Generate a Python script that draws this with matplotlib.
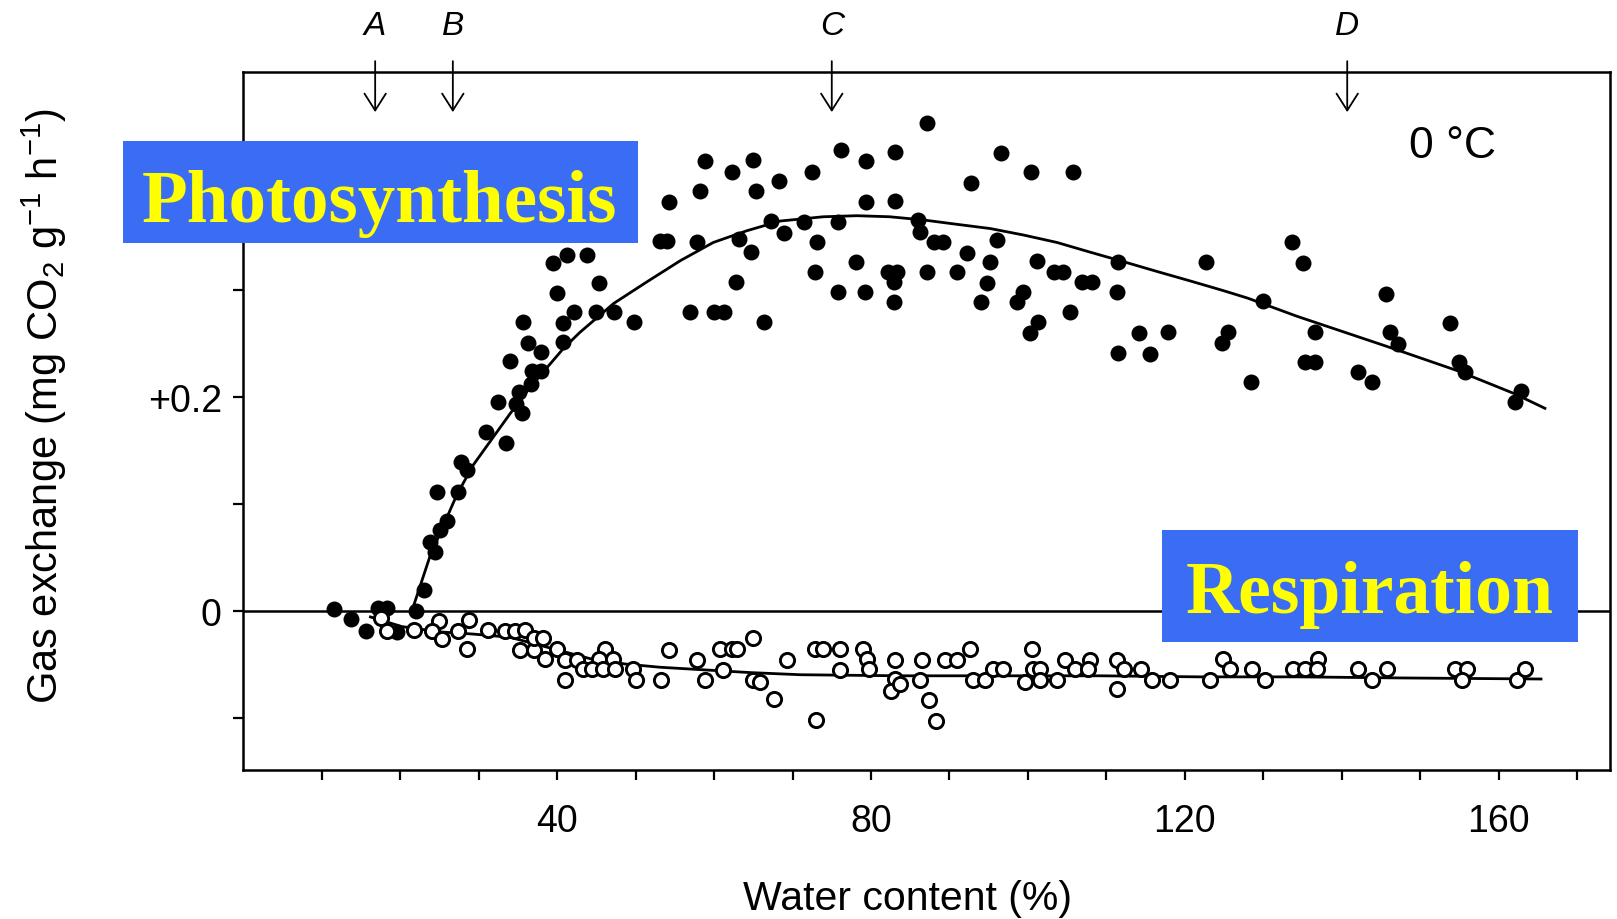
import matplotlib.pyplot as plt
from matplotlib.patches import Rectangle

plt.rcParams['font.family'] = ['Liberation Sans', 'DejaVu Sans']
plt.rcParams['mathtext.default'] = 'regular'

# photosynthesis, filled dots (water content %, mg CO2 g-1 h-1)
photo_x = [58.9, 62.3, 64.9, 68.3, 58.2, 65.4, 54.3, 53.1, 54.0, 57.8,
           63.2, 64.7, 67.2, 68.9, 39.5, 41.2, 43.8, 45.3, 40.0, 62.8,
           42.1, 40.7, 45.0, 47.2, 49.8, 56.9, 60.0, 61.2, 66.4, 35.7,
           36.3, 38.0, 40.7, 34.0, 36.8, 38.0, 36.6, 35.1, 32.5, 35.5,
           34.8, 30.9, 33.5, 27.8, 28.5, 24.7, 27.4, 25.9, 25.1, 23.8,
           24.4, 23.0, 22.0, 18.3, 17.1, 11.6, 13.7, 15.6, 19.6,
           87.2, 76.2, 79.4, 83.0, 72.5, 96.6, 100.4, 105.8, 92.7, 79.3,
           83.0, 71.4, 75.8, 86.0, 86.3, 73.1, 88.0, 89.2, 96.0, 92.3,
           95.2, 78.1, 72.9, 82.2, 83.3, 82.9, 87.2, 90.9, 101.1, 103.3,
           104.5, 106.9, 108.2, 94.8, 111.5, 75.8, 79.2, 82.9, 94.0, 99.4,
           98.6, 111.3, 105.4, 101.3, 100.3, 114.1, 117.8, 111.5, 115.6, 122.7,
           133.6, 135.0, 130.0, 125.5, 124.8, 128.4, 136.6, 135.3, 136.6, 145.7,
           146.2, 147.2, 142.1, 143.9, 153.8, 154.9, 155.7, 162.9, 162.1]
photo_y = [0.420, 0.410, 0.421, 0.401, 0.392, 0.392, 0.382, 0.345, 0.345, 0.344,
           0.347, 0.335, 0.364, 0.353, 0.325, 0.332, 0.332, 0.306, 0.297, 0.307,
           0.279, 0.269, 0.279, 0.279, 0.270, 0.279, 0.279, 0.279, 0.270, 0.270,
           0.250, 0.242, 0.251, 0.233, 0.224, 0.224, 0.212, 0.204, 0.195, 0.185,
           0.193, 0.167, 0.157, 0.139, 0.131, 0.111, 0.111, 0.084, 0.075, 0.064,
           0.055, 0.019, 0.000, 0.002, 0.002, 0.001, -0.008, -0.019, -0.020,
           0.456, 0.430, 0.420, 0.429, 0.410, 0.428, 0.410, 0.410, 0.400, 0.382,
           0.383, 0.363, 0.363, 0.365, 0.354, 0.344, 0.344, 0.344, 0.346, 0.334,
           0.326, 0.326, 0.316, 0.316, 0.316, 0.307, 0.316, 0.316, 0.327, 0.316,
           0.316, 0.307, 0.307, 0.306, 0.326, 0.298, 0.298, 0.288, 0.288, 0.298,
           0.288, 0.298, 0.279, 0.270, 0.259, 0.259, 0.260, 0.241, 0.240, 0.326,
           0.344, 0.325, 0.289, 0.260, 0.250, 0.214, 0.260, 0.232, 0.232, 0.296,
           0.260, 0.249, 0.223, 0.214, 0.269, 0.232, 0.223, 0.205, 0.195]

# respiration, open circles
resp_x = [17.5, 18.3, 21.7, 25.0, 24.0, 25.3, 28.7, 27.4, 28.5, 31.2,
          33.3, 34.6, 35.9, 35.3, 37.0, 37.1, 38.2, 38.4, 40.0, 41.0,
          41.0, 42.5, 43.3, 46.1, 45.3, 47.1, 44.4, 45.9, 47.4, 49.7,
          50.1, 53.2, 54.3, 57.8, 58.9,
          60.7, 62.3, 62.9, 65.0, 61.1, 65.0, 65.9, 67.7, 69.3, 73.0,
          72.9, 73.9, 76.1, 76.1, 79.0, 79.5, 79.7, 83.0, 83.0, 82.6,
          83.7, 86.5, 86.3, 87.4, 88.3, 89.4, 90.9, 92.6, 93.0, 94.5,
          95.5, 96.8, 100.5, 100.6, 101.6, 99.6, 101.6, 103.7, 104.7, 106.0,
          107.9, 107.7, 111.3, 111.3,
          112.2, 114.4, 115.8, 118.1, 123.2, 124.9, 125.8, 128.5, 130.2, 133.8,
          135.3, 137.0, 136.8, 142.1, 143.8, 145.8, 154.5, 156.0, 155.3, 162.3,
          163.4]
resp_y = [-0.007, -0.019, -0.018, -0.010, -0.019, -0.027, -0.009, -0.019, -0.036, -0.018,
          -0.019, -0.019, -0.018, -0.037, -0.037, -0.026, -0.026, -0.045, -0.036, -0.046,
          -0.065, -0.046, -0.055, -0.036, -0.045, -0.045, -0.055, -0.055, -0.055, -0.055,
          -0.065, -0.065, -0.037, -0.046, -0.065,
          -0.036, -0.036, -0.036, -0.026, -0.056, -0.065, -0.067, -0.083, -0.046, -0.102,
          -0.036, -0.036, -0.036, -0.056, -0.036, -0.045, -0.055, -0.046, -0.064, -0.075,
          -0.069, -0.046, -0.065, -0.084, -0.103, -0.046, -0.046, -0.036, -0.065, -0.065,
          -0.055, -0.055, -0.036, -0.055, -0.055, -0.067, -0.065, -0.065, -0.046, -0.055,
          -0.046, -0.055, -0.046, -0.073,
          -0.055, -0.055, -0.065, -0.065, -0.065, -0.045, -0.055, -0.055, -0.065, -0.055,
          -0.055, -0.045, -0.055, -0.055, -0.065, -0.055, -0.055, -0.055, -0.065, -0.065,
          -0.055]

# fitted curves
photo_fit_x = [21.5, 23.8, 27.2, 29.3, 34.0, 36.6, 40.8, 42.9, 47.2, 51.4,
               55.7, 59.9, 64.2, 68.4, 73.9, 78.2, 82.4, 86.7, 90.9, 95.2,
               99.4, 103.7, 107.9, 112.2, 116.4, 120.7, 124.9, 128.0, 134.3, 140.0,
               146.5, 154.8, 161.9, 165.9]
photo_fit_y = [0.000, 0.051, 0.108, 0.136, 0.184, 0.209, 0.245, 0.260, 0.287, 0.307,
               0.327, 0.344, 0.355, 0.364, 0.368, 0.369, 0.368, 0.365, 0.361, 0.357,
               0.351, 0.344, 0.335, 0.326, 0.317, 0.308, 0.299, 0.292, 0.275, 0.261,
               0.245, 0.224, 0.203, 0.189]
resp_fit_x = [16.2, 20.2, 25.1, 29.3, 34.0, 39.6, 44.2, 48.7, 53.1, 57.7,
              64.6, 71.0, 83.7, 96.5, 109.2, 122.0, 134.7, 147.5, 165.4]
resp_fit_y = [-0.006, -0.015, -0.020, -0.022, -0.025, -0.036, -0.045, -0.050, -0.053, -0.055,
              -0.058, -0.060, -0.061, -0.061, -0.061, -0.062, -0.062, -0.063, -0.064]

marker_x = [16.8, 26.7, 75.0, 140.7]
marker_labels = ['A', 'B', 'C', 'D']

x_major = [40, 80, 120, 160]
x_minor = list(range(10, 180, 10))
y_major = [0, 0.2]
y_major_labels = ['0', '+0.2']
y_minor = [-0.1, 0.1, 0.3, 0.4]

blue = '#3b6cf4'
yellow = '#ffff00'

fig = plt.figure(figsize=(16.17, 9.2), dpi=100)
ax = fig.add_axes([0.1505, 0.1620, 0.8452, 0.7583])

ax.axhline(0, color='black', lw=1.8, zorder=1)
ax.plot(photo_fit_x, photo_fit_y, color='black', lw=2.0, zorder=2)
ax.plot(resp_fit_x, resp_fit_y, color='black', lw=2.0, zorder=2)
ax.plot(photo_x, photo_y, 'o', ms=11.5, color='black', mew=0, zorder=3)
ax.plot(resp_x, resp_y, 'o', ms=10.2, mfc='white', mec='black', mew=2.1, zorder=3)

ax.set_xlim(0, 174.2)
ax.set_ylim(-0.149, 0.503)
ax.set_xticks(x_major)
ax.set_xticks(x_minor, minor=True)
ax.set_yticks(y_major, y_major_labels)
ax.set_yticks(y_minor, minor=True)
ax.tick_params(which='both', direction='out', length=7.5, width=1.6, labelsize=27)
ax.tick_params(axis='x', which='major', pad=16)
ax.tick_params(axis='y', which='major', pad=8)
for s in ax.spines.values():
    s.set_linewidth(1.8)

# marker arrows A-D above the plot
for xm, lab in zip(marker_x, marker_labels):
    ax.annotate('', xy=(xm, 0.943), xytext=(xm, 1.016),
                xycoords=('data', 'axes fraction'),
                arrowprops=dict(arrowstyle='->,head_length=0.55,head_width=0.35',
                                lw=1.3, color='black', shrinkA=0, shrinkB=0,
                                mutation_scale=22),
                annotation_clip=False)
    ax.text(xm, 1.067, lab, transform=ax.get_xaxis_transform(), ha='center',
            va='center', fontsize=24, style='italic')

ax.text(0.885, 0.879, '0 °C', transform=ax.transAxes, ha='center',
        va='baseline', fontsize=32)

ax.set_xlabel('Water content (%)', fontsize=29.5)
ax.xaxis.set_label_coords(0.486, -0.1562)
ax.set_ylabel(r'Gas exchange (mg CO$_2$ g$^{-1}$ h$^{-1}$)', fontsize=30)
ax.yaxis.set_label_coords(-0.1275, 0.523)

# blue label boxes
fig.add_artist(Rectangle((0.0759, 0.7345), 0.3189, 0.1115, transform=fig.transFigure,
                         facecolor=blue, edgecolor='none', zorder=5))
fig.text(0.2347, 0.759, 'Photosynthesis', ha='center', va='baseline', fontsize=54,
         fontweight='bold', family='Liberation Serif', color=yellow, zorder=6)
fig.add_artist(Rectangle((0.7186, 0.3008), 0.2574, 0.1220, transform=fig.transFigure,
                         facecolor=blue, edgecolor='none', zorder=5))
fig.text(0.8473, 0.3334, 'Respiration', ha='center', va='baseline', fontsize=53,
         fontweight='bold', family='Liberation Serif', color=yellow, zorder=6)

fig.savefig('out.png', dpi=100)
